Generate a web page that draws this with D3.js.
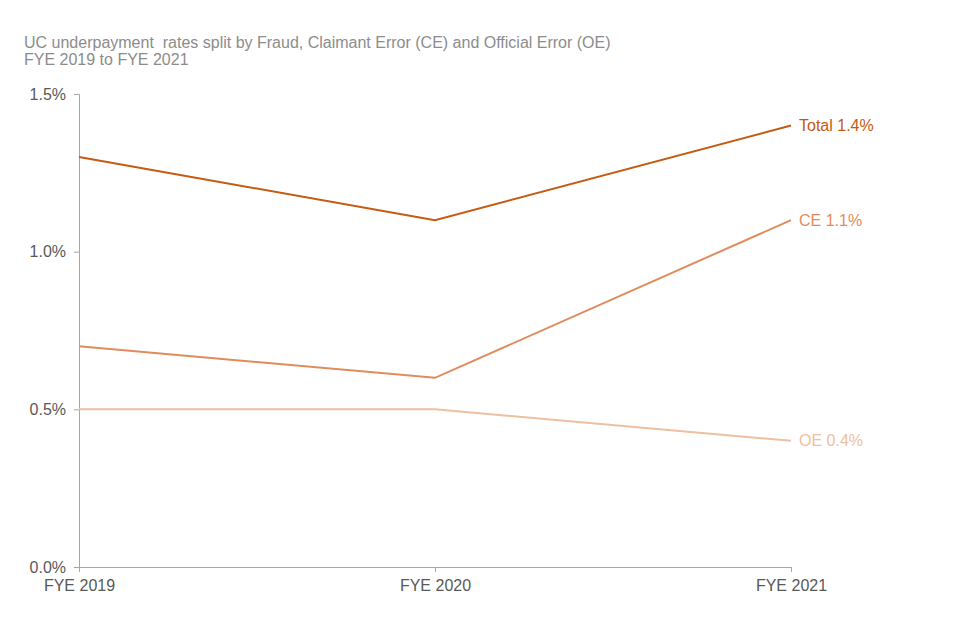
<!DOCTYPE html>
<html>
<head>
<meta charset="utf-8">
<script src="https://cdn.jsdelivr.net/npm/d3@7"></script>
<style>
body { margin: 0; background: #fff; }
svg text { font-family: "Liberation Sans", Arial, sans-serif; }
</style>
</head>
<body>
<svg id="chart" width="960" height="640"></svg>
<script>
var years = ['FYE 2019', 'FYE 2020', 'FYE 2021'];
var totalRate = [1.3, 1.1, 1.4];
var ceRate = [0.7, 0.6, 1.1];
var oeRate = [0.5, 0.5, 0.4];
var yTicks = [0, 0.5, 1.0, 1.5];

var series = [
    {name: 'Total', values: totalRate, color: '#c55a11'},
    {name: 'CE', values: ceRate, color: '#df8c5c'},
    {name: 'OE', values: oeRate, color: '#eebfa0'}
];

var svg = d3.select('#chart');

var x = d3.scalePoint().domain(years).range([79, 791]);
var y = d3.scaleLinear().domain([0, 1.5]).range([567, 94]);

// title
var title = svg.append('text')
    .attr('x', 24)
    .attr('y', 48)
    .attr('fill', '#8c8c8c')
    .attr('font-size', 16)
    .style('white-space', 'pre');
title.append('tspan').attr('x', 24).text('UC underpayment  rates split by Fraud, Claimant Error (CE) and Official Error (OE)');
title.append('tspan').attr('x', 24).attr('dy', 17).text('FYE 2019 to FYE 2021');

// axes
var yAxis = svg.append('g')
    .attr('transform', 'translate(79,0)')
    .call(d3.axisLeft(y).tickValues(yTicks).tickSize(5).tickPadding(8)
        .tickFormat(function(d) { return d.toFixed(1) + '%'; }));

var xAxis = svg.append('g')
    .attr('transform', 'translate(0,567)')
    .call(d3.axisBottom(x).tickSize(5).tickPadding(8));

[yAxis, xAxis].forEach(function(a) {
    a.select('.domain').attr('stroke', '#a6a6a6');
    a.selectAll('.tick line').attr('stroke', '#a6a6a6');
    a.selectAll('.tick text')
        .attr('fill', '#595959')
        .attr('font-size', 16)
        .style('font-family', '"Liberation Sans", Arial, sans-serif');
});
xAxis.select('.domain').attr('d', 'M79,0.5H791.5');

var line = d3.line()
    .x(function(d, i) { return x(years[i]); })
    .y(function(d) { return y(d); });

series.forEach(function(s) {
    svg.append('path')
        .datum(s.values)
        .attr('d', line)
        .attr('fill', 'none')
        .attr('stroke', s.color)
        .attr('stroke-width', 2);

    var last = s.values[s.values.length - 1];
    svg.append('text')
        .attr('x', x(years[years.length - 1]) + 8)
        .attr('y', y(last))
        .attr('dy', '0.35em')
        .attr('fill', s.color)
        .attr('font-size', 16)
        .text(s.name + ' ' + last.toFixed(1) + '%');
});
</script>
</body>
</html>
